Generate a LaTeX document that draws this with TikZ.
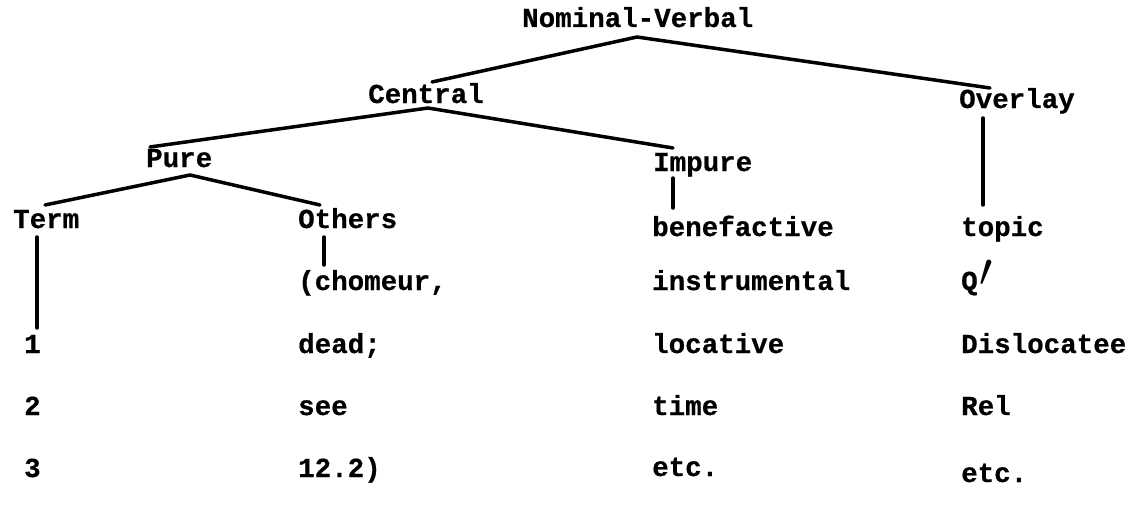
\documentclass[tikz,border=0pt]{standalone}
\usepackage{fontspec}
\newfontfamily\twfont{Liberation Mono}[BoldFeatures={FakeBold=0.6}]
\tikzset{
  lbl/.style={anchor=base west, inner sep=0pt, font=\twfont\bfseries\fontsize{27.5}{30}\selectfont},
  edge/.style={line width=3.5pt, line cap=round}
}
\begin{document}
\begin{tikzpicture}[x=1pt,y=-1pt]
\useasboundingbox (0,0) rectangle (1140,511);
% tree labels
\node[lbl] (nv) at (522,27) {Nominal-Verbal};
\node[lbl] (central) at (368,103) {Central};
\node[lbl] (overlay) at (959,108) {Overlay};
\node[lbl] (pure) at (146,167) {Pure};
\node[lbl] (impure) at (653,171) {Impure};
\node[lbl] (term) at (13,228) {Term};
\node[lbl] (others) at (298,228) {Others};
\node[lbl] (bene) at (652,236) {benefactive};
\node[lbl] (topic) at (961,236) {topic};
% column rows
\node[lbl] (chom) at (298,290) {(chomeur,};
\node[lbl] (instr) at (652,290) {instrumental};
\node[lbl] (qp) at (961,290) {Q\hspace{2pt}\raisebox{4pt}{\scalebox{1.9}{$\prime$}}};
\node[lbl] (one) at (24,353) {1};
\node[lbl] (dead) at (298,353) {dead;};
\node[lbl] (loc) at (652,353) {locative};
\node[lbl] (disl) at (961,353) {Dislocatee};
\node[lbl] (two) at (24,415) {2};
\node[lbl] (see) at (298,415) {see};
\node[lbl] (time) at (652,415) {time};
\node[lbl] (rel) at (961,415) {Rel};
\node[lbl] (three) at (24,477) {3};
\node[lbl] (sec) at (298,477) {12.2)};
\node[lbl] (etcA) at (652,476) {etc.};
\node[lbl] (etcB) at (961,482) {etc.};
% connector end points
\coordinate (nvB) at (637,37);
\coordinate (centralT) at (432,82);
\coordinate (overlayT) at (990,88);
\coordinate (centralB) at (428,108);
\coordinate (pureT) at (150,147);
\coordinate (impureT) at (673,148);
\coordinate (pureB) at (190,175);
\coordinate (termT) at (45,205);
\coordinate (othersT) at (320,205);
\coordinate (termB) at (37,237);
\coordinate (oneT) at (37,328);
\coordinate (othersB) at (324,237);
\coordinate (chomT) at (324,265);
\coordinate (impureB) at (673,178);
\coordinate (beneT) at (673,208);
\coordinate (overlayB) at (983,118);
\coordinate (topicT) at (983,205);
% connectors
\draw[edge] (nvB) -- (centralT);
\draw[edge] (nvB) -- (overlayT);
\draw[edge] (centralB) -- (pureT);
\draw[edge] (centralB) -- (impureT);
\draw[edge] (pureB) -- (termT);
\draw[edge] (pureB) -- (othersT);
\draw[edge] (termB) -- (oneT);
\draw[edge] (othersB) -- (chomT);
\draw[edge] (impureB) -- (beneT);
\draw[edge] (overlayB) -- (topicT);
\end{tikzpicture}
\end{document}
